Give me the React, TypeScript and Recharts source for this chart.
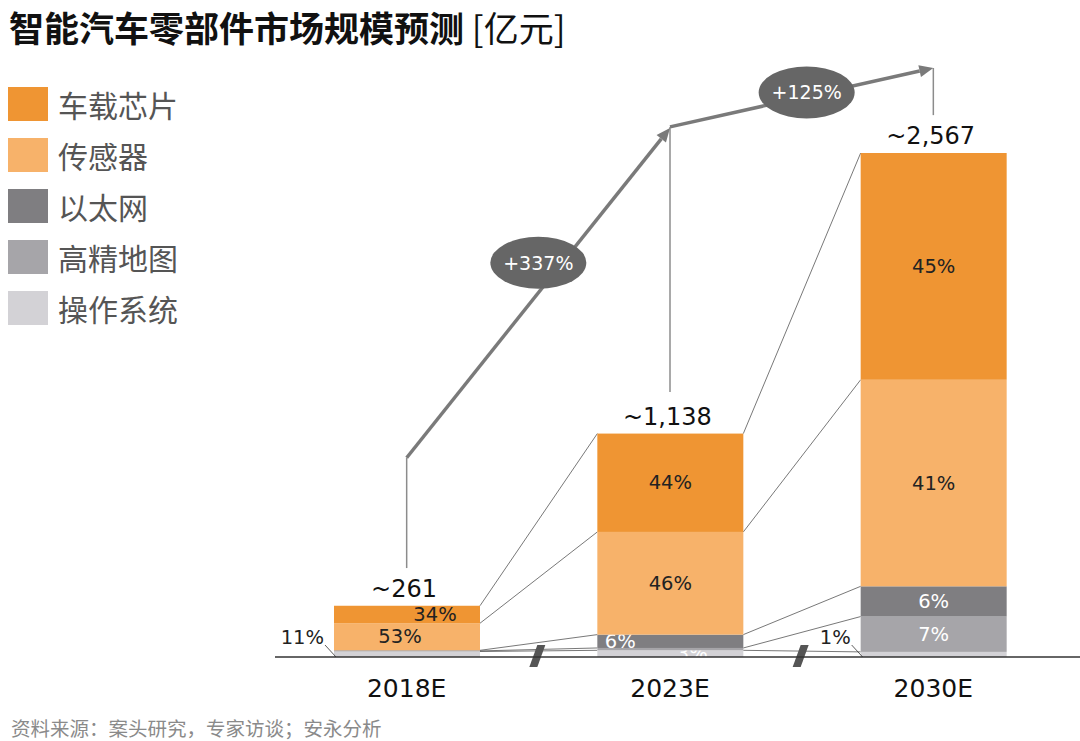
import { BarChart, Bar, XAxis, YAxis, ReferenceLine, Legend } from 'recharts'

const categories = ['2018E', '2023E', '2030E']
const chipValues = [89, 501, 1155]
const sensorValues = [138, 523, 1052]
const ethernetValues = [3, 68, 154]
const mapValues = [3, 12, 180]
const osValues = [28, 34, 26]

// growth arrows between the totals (heights in 亿元, same scale as the bars)
const growthLabels = ['+337%', '+125%']
const arrowStart = [1015, 2700]
const arrowEnd = [2695, 3000]
const stemTop = [1015, 2700, 3000]
const stemBottom = [453, 1350, 2760]

const W = 1080
const H = 741
const AXIS_H = 30
const M = { top: 68, right: 0, bottom: 84 - AXIS_H, left: 275 }
const PAD_RIGHT = 15
const Y_MAX = 3000
const STEP = (W - M.left - M.right - PAD_RIGHT) / categories.length
const BASE = H - M.bottom - AXIS_H
const PPU = (BASE - M.top) / Y_MAX

const NUM_FONT = '"DejaVu Sans", Verdana, sans-serif'
const CJK_FONT = '"Noto Sans CJK SC", "Noto Sans", sans-serif'

// stacked bottom -> top
const series = [
  { key: 'os', name: '操作系统', color: '#d3d2d6', text: '#fff', values: osValues },
  { key: 'map', name: '高精地图', color: '#a6a5a9', text: '#fff', values: mapValues },
  { key: 'eth', name: '以太网', color: '#7f7e81', text: '#fff', values: ethernetValues },
  { key: 'sensor', name: '传感器', color: '#f7b26a', text: '#222', values: sensorValues },
  { key: 'chip', name: '车载芯片', color: '#ef9533', text: '#222', values: chipValues },
]

const data = categories.map((cat, i) => {
  const row: Record<string, string | number> = { cat }
  series.forEach((s) => (row[s.key] = s.values[i]))
  return row
})
const totals = categories.map((_, i) => series.reduce((a, s) => a + s.values[i], 0))
const cumulative = (si: number, i: number) =>
  series.slice(0, si + 1).reduce((a, s) => a + s.values[i], 0)

// label placement tweaks per segment
const labelTweaks: Record<string, { dx?: number; dy?: number; hide?: boolean; outside?: boolean }> = {
  'chip-0': { dx: 28 },
  'sensor-0': { dx: -7 },
  'eth-0': { hide: true },
  'map-0': { hide: true },
  'map-1': { hide: true },
  'eth-1': { dx: -50 },
  'os-0': { outside: true },
  'os-1': { dx: 22, dy: 0 },
  'os-2': { outside: true },
}
const bubbleOffsets = [
  { dx: 0, dy: -30 },
  { dx: 5, dy: -5 },
]

const makeShape = (si: number) => (props: any) => {
  const { x, y, width, height, payload } = props
  const i = categories.indexOf(payload.cat)
  const s = series[si]
  const v = s.values[i]
  const total = totals[i]
  const tw = labelTweaks[`${s.key}-${i}`] || {}
  const pct = Math.round((v / total) * 100) + '%'
  const hasNext = i < categories.length - 1
  return (
    <g>
      <rect x={x} y={y} width={width} height={height} fill={s.color} />
      {hasNext && (
        <line x1={x + width} y1={y} x2={x + STEP} y2={BASE - cumulative(si, i + 1) * PPU}
          stroke="#555" strokeWidth={0.8} />
      )}
      {!tw.hide && !tw.outside && (
        <text x={x + width / 2 + (tw.dx || 0)} y={y + height / 2 + (tw.dy || 0)}
          textAnchor="middle" dominantBaseline="central" fontSize={19.5}
          fontFamily={NUM_FONT} fill={s.text}>{pct}</text>
      )}
      {tw.outside && (
        <g>
          <text x={x - 10} y={BASE - 20} textAnchor="end" dominantBaseline="central"
            fontSize={19.5} fontFamily={NUM_FONT} fill="#222">{pct}</text>
          <line x1={x - 9} y1={BASE - 12} x2={x + 2} y2={BASE} stroke="#333" strokeWidth={0.8} />
        </g>
      )}
      {si === series.length - 1 && (
        <text x={x + width / 2 - 3} y={y - 9} textAnchor="middle" fontSize={24}
          fontFamily={NUM_FONT} fill="#111">~{total.toLocaleString('en-US')}</text>
      )}
    </g>
  )
}

const arrowShape = (label: string, off: { dx: number; dy: number }) => (p: any) => {
  const { x1, y1, x2, y2 } = p
  const ang = Math.atan2(y2 - y1, x2 - x1)
  const bx = x2 - 14 * Math.cos(ang)
  const by = y2 - 14 * Math.sin(ang)
  const px = -Math.sin(ang) * 6
  const py = Math.cos(ang) * 6
  const mx = (x1 + x2) / 2 + off.dx
  const my = (y1 + y2) / 2 + off.dy
  return (
    <g>
      <line x1={x1} y1={y1} x2={bx} y2={by} stroke="#7a7a7a" strokeWidth={3.5} />
      <polygon points={`${x2},${y2} ${bx + px},${by + py} ${bx - px},${by - py}`} fill="#7a7a7a" />
      <ellipse cx={mx} cy={my} rx={48} ry={26} fill="#666" />
      <text x={mx} y={my} textAnchor="middle" dominantBaseline="central" fontSize={19}
        fontFamily={NUM_FONT} fill="#fff">{label}</text>
    </g>
  )
}

const breakShape = (p: any) => {
  const x = p.x1
  const b = Math.max(p.y1, p.y2)
  return (
    <polygon points={`${x - 1},${b - 12} ${x + 7},${b - 12} ${x - 1},${b + 10} ${x - 9},${b + 10}`}
      fill="#555" />
  )
}

function CategoryTick({ x, payload }: any) {
  return (
    <text x={x} y={BASE} dy={40} textAnchor="middle" fontSize={25} fill="#111" fontFamily={NUM_FONT}>
      {payload.value}
    </text>
  )
}

function LegendBox() {
  return (
    <div style={{ display: 'flex', flexDirection: 'column', gap: 17 }}>
      {[...series].reverse().map((s) => (
        <div key={s.key} style={{ display: 'flex', alignItems: 'center', height: 34 }}>
          <span style={{ width: 40, height: 34, background: s.color, display: 'inline-block' }} />
          <span style={{ marginLeft: 10, fontSize: 30, color: '#555', fontFamily: CJK_FONT, lineHeight: '34px' }}>
            {s.name}
          </span>
        </div>
      ))}
    </div>
  )
}

export default function App() {
  return (
    <div style={{ position: 'absolute', left: 0, top: 0, width: W, height: H, background: '#fff', overflow: 'hidden' }}>
      <BarChart width={W} height={H} data={data} margin={M}>
        <XAxis dataKey="cat" height={AXIS_H} padding={{ left: 0, right: PAD_RIGHT }} tickLine={false}
          tickSize={0} tickMargin={0} interval={0} axisLine={{ stroke: '#333', strokeWidth: 1.5 }}
          tick={(p: any) => <CategoryTick {...p} />} />
        <YAxis hide domain={[0, Y_MAX]} />
        <Legend layout="vertical" align="center" verticalAlign="middle"
          wrapperStyle={{ left: 8, top: 87, width: 220, right: 'auto', bottom: 'auto' }}
          content={() => <LegendBox />} />
        {series.map((s, si) => (
          <Bar key={s.key} dataKey={s.key} name={s.name} stackId="a" barSize={146}
            fill={s.color} shape={makeShape(si)} isAnimationActive={false} />
        ))}
        {categories.slice(1).map((c) => (
          <ReferenceLine key={`brk-${c}`} x={c} position="start" ifOverflow="visible" shape={breakShape} />
        ))}
        {categories.map((c, i) => (
          <ReferenceLine key={`stem-${c}`} ifOverflow="visible" stroke="#8c8c8c" strokeWidth={1.5}
            segment={[{ x: c, y: stemTop[i] }, { x: c, y: stemBottom[i] }]} />
        ))}
        {growthLabels.map((g, k) => (
          <ReferenceLine key={`arr-${g}`} ifOverflow="visible"
            segment={[{ x: categories[k], y: arrowStart[k] }, { x: categories[k + 1], y: arrowEnd[k] }]}
            shape={arrowShape(g, bubbleOffsets[k])} />
        ))}
      </BarChart>
      <div style={{ position: 'absolute', left: 9, top: 5, fontFamily: CJK_FONT, fontSize: 35,
        lineHeight: '44px', color: '#111', whiteSpace: 'nowrap' }}>
        <span style={{ fontWeight: 700 }}>智能汽车零部件市场规模预测</span>
        <span style={{ fontWeight: 400 }}> [亿元]</span>
      </div>
      <div style={{ position: 'absolute', left: 11, top: 718, fontFamily: CJK_FONT, fontSize: 19.5,
        lineHeight: '20px', color: '#8a8a8a', whiteSpace: 'nowrap' }}>
        资料来源：案头研究，专家访谈；安永分析
      </div>
    </div>
  )
}
